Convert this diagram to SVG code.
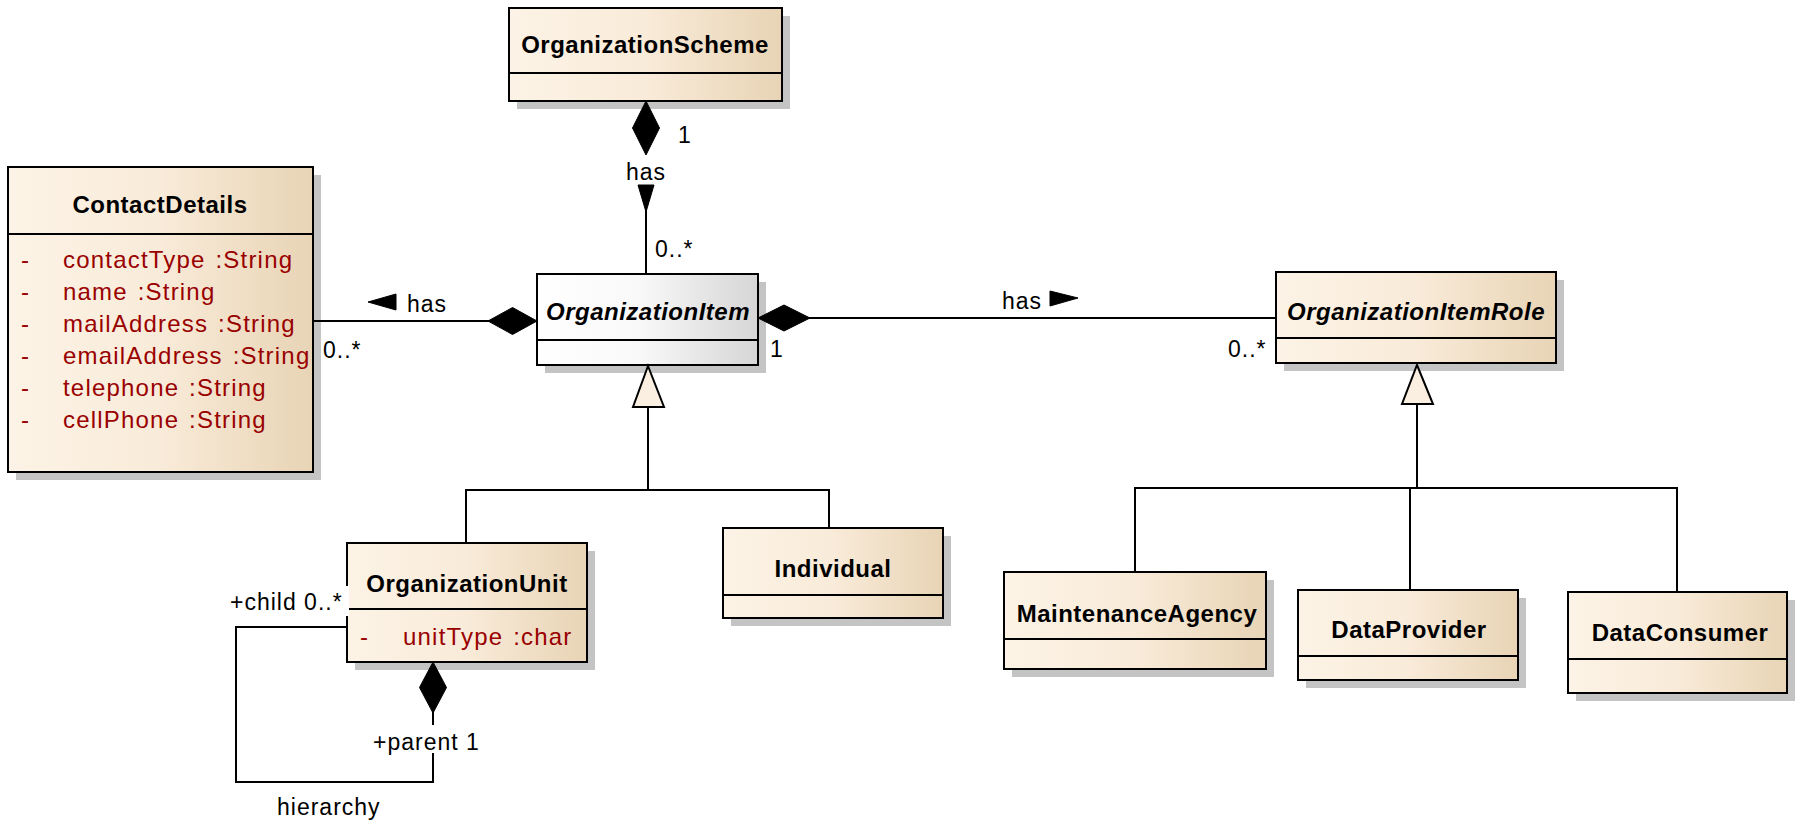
<svg xmlns="http://www.w3.org/2000/svg" width="1803" height="823" viewBox="0 0 1803 823">
<defs>
<linearGradient id="cream" x1="0" y1="0" x2="1" y2="0">
<stop offset="0" stop-color="#fcf3e6"/>
<stop offset="0.5" stop-color="#f9ebd9"/>
<stop offset="1" stop-color="#e8d4b5"/>
</linearGradient>
<linearGradient id="gray" x1="0" y1="0" x2="1" y2="0">
<stop offset="0" stop-color="#ffffff"/>
<stop offset="0.45" stop-color="#f9f9f9"/>
<stop offset="1" stop-color="#d6d6d6"/>
</linearGradient>
<style>
.sh{fill:#c4c4c4}
.box{fill:url(#cream);stroke:#000;stroke-width:2}
.boxg{fill:url(#gray);stroke:#000;stroke-width:2}
.sep{stroke:#000;stroke-width:2}
.t{font-family:"Liberation Sans",Arial,sans-serif;font-size:24px;font-weight:bold;letter-spacing:0.5px;text-anchor:middle;fill:#000}
.ti{font-style:italic}
.a{font-family:"Liberation Sans",Arial,sans-serif;font-size:24px;letter-spacing:1.2px;word-spacing:2px;fill:#990000}
.l{font-family:"Liberation Sans",Arial,sans-serif;font-size:23px;letter-spacing:1px;fill:#000}
.ln{stroke:#000;stroke-width:2;fill:none}
.fd{fill:#000;stroke:#000;stroke-width:1}
.gen{fill:#faefe0;stroke:#000;stroke-width:2}
</style>
</defs>
<rect width="1803" height="823" fill="#fff"/>
<g id="nodes">
<g id="OrganizationScheme">
<rect class="sh" x="517" y="16" width="273" height="93"/>
<rect class="box" x="509" y="8" width="273" height="93"/>
<line class="sep" x1="509" y1="73" x2="782" y2="73"/>
<text class="t" x="645" y="53">OrganizationScheme</text>
</g>
<g id="ContactDetails">
<rect class="sh" x="16" y="175" width="305" height="305"/>
<rect class="box" x="8" y="167" width="305" height="305"/>
<line class="sep" x1="8" y1="234" x2="313" y2="234"/>
<text class="t" x="160" y="213">ContactDetails</text>
<text class="a" x="21" y="268">-</text><text class="a" x="63" y="268">contactType :String</text>
<text class="a" x="21" y="300">-</text><text class="a" x="63" y="300">name :String</text>
<text class="a" x="21" y="332">-</text><text class="a" x="63" y="332">mailAddress :String</text>
<text class="a" x="21" y="364">-</text><text class="a" x="63" y="364">emailAddress :String</text>
<text class="a" x="21" y="396">-</text><text class="a" x="63" y="396">telephone :String</text>
<text class="a" x="21" y="428">-</text><text class="a" x="63" y="428">cellPhone :String</text>
</g>
<g id="OrganizationItem">
<rect class="sh" x="545" y="282" width="221" height="91"/>
<rect class="boxg" x="537" y="274" width="221" height="91"/>
<line class="sep" x1="537" y1="340" x2="758" y2="340"/>
<text class="t ti" x="648" y="320">OrganizationItem</text>
</g>
<g id="OrganizationItemRole">
<rect class="sh" x="1284" y="280" width="280" height="91"/>
<rect class="box" x="1276" y="272" width="280" height="91"/>
<line class="sep" x1="1276" y1="338" x2="1556" y2="338"/>
<text class="t ti" x="1416" y="320">OrganizationItemRole</text>
</g>
<g id="OrganizationUnit">
<rect class="sh" x="355" y="551" width="240" height="119"/>
<rect class="box" x="347" y="543" width="240" height="119"/>
<line class="sep" x1="347" y1="609" x2="587" y2="609"/>
<text class="t" x="467" y="592">OrganizationUnit</text>
<text class="a" x="360" y="645">-</text><text class="a" x="403" y="645">unitType :char</text>
</g>
<g id="Individual">
<rect class="sh" x="731" y="536" width="220" height="90"/>
<rect class="box" x="723" y="528" width="220" height="90"/>
<line class="sep" x1="723" y1="595" x2="943" y2="595"/>
<text class="t" x="833" y="577">Individual</text>
</g>
<g id="MaintenanceAgency">
<rect class="sh" x="1012" y="580" width="262" height="97"/>
<rect class="box" x="1004" y="572" width="262" height="97"/>
<line class="sep" x1="1004" y1="639" x2="1266" y2="639"/>
<text class="t" x="1137" y="622">MaintenanceAgency</text>
</g>
<g id="DataProvider">
<rect class="sh" x="1306" y="598" width="220" height="90"/>
<rect class="box" x="1298" y="590" width="220" height="90"/>
<line class="sep" x1="1298" y1="656" x2="1518" y2="656"/>
<text class="t" x="1409" y="638">DataProvider</text>
</g>
<g id="DataConsumer">
<rect class="sh" x="1576" y="600" width="219" height="101"/>
<rect class="box" x="1568" y="592" width="219" height="101"/>
<line class="sep" x1="1568" y1="659" x2="1787" y2="659"/>
<text class="t" x="1680" y="641">DataConsumer</text>
</g>
</g>
<g id="connectors">
<line class="ln" x1="646" y1="200" x2="646" y2="274"/>
<polygon class="fd" points="646,101 659.5,128 646,155 632.5,128"/>
<polygon class="fd" points="638,185 654,185 646,212"/>
<text class="l" x="678" y="143">1</text>
<text class="l" x="646" y="180" text-anchor="middle">has</text>
<text class="l" x="655" y="257">0..*</text>
<line class="ln" x1="313" y1="321" x2="500" y2="321"/>
<polygon class="fd" points="537,321 512.5,307.5 488,321 512.5,334.5"/>
<polygon class="fd" points="368,302 396,294 396,310"/>
<text class="l" x="407" y="312">has</text>
<text class="l" x="323" y="358">0..*</text>
<line class="ln" x1="800" y1="318" x2="1276" y2="318"/>
<polygon class="fd" points="758,318 784,305 810,318 784,331"/>
<polygon class="fd" points="1050,291 1078,298 1050,306"/>
<text class="l" x="1002" y="309">has</text>
<text class="l" x="770" y="357">1</text>
<text class="l" x="1228" y="357">0..*</text>
<polyline class="ln" points="648,407 648,490"/>
<polyline class="ln" points="466,543 466,490 829,490 829,528"/>
<polygon class="gen" points="648,366 664,407 633,407"/>
<polyline class="ln" points="1417,404 1417,488"/>
<polyline class="ln" points="1135,572 1135,488 1677,488 1677,592"/>
<line class="ln" x1="1410" y1="488" x2="1410" y2="590"/>
<polygon class="gen" points="1417,365 1433,404 1402,404"/>
<line class="ln" x1="433" y1="700" x2="433" y2="725"/>
<polyline class="ln" points="433,753 433,782 236,782 236,627 347,627"/>
<polygon class="fd" points="433,662 446.5,687.5 433,713 419.5,687.5"/>
<rect x="229" y="586" width="120" height="30" fill="#fff"/>
<text class="l" x="230" y="610">+child 0..*</text>
<text class="l" x="373" y="750">+parent 1</text>
<text class="l" x="277" y="815">hierarchy</text>
</g>
</svg>
